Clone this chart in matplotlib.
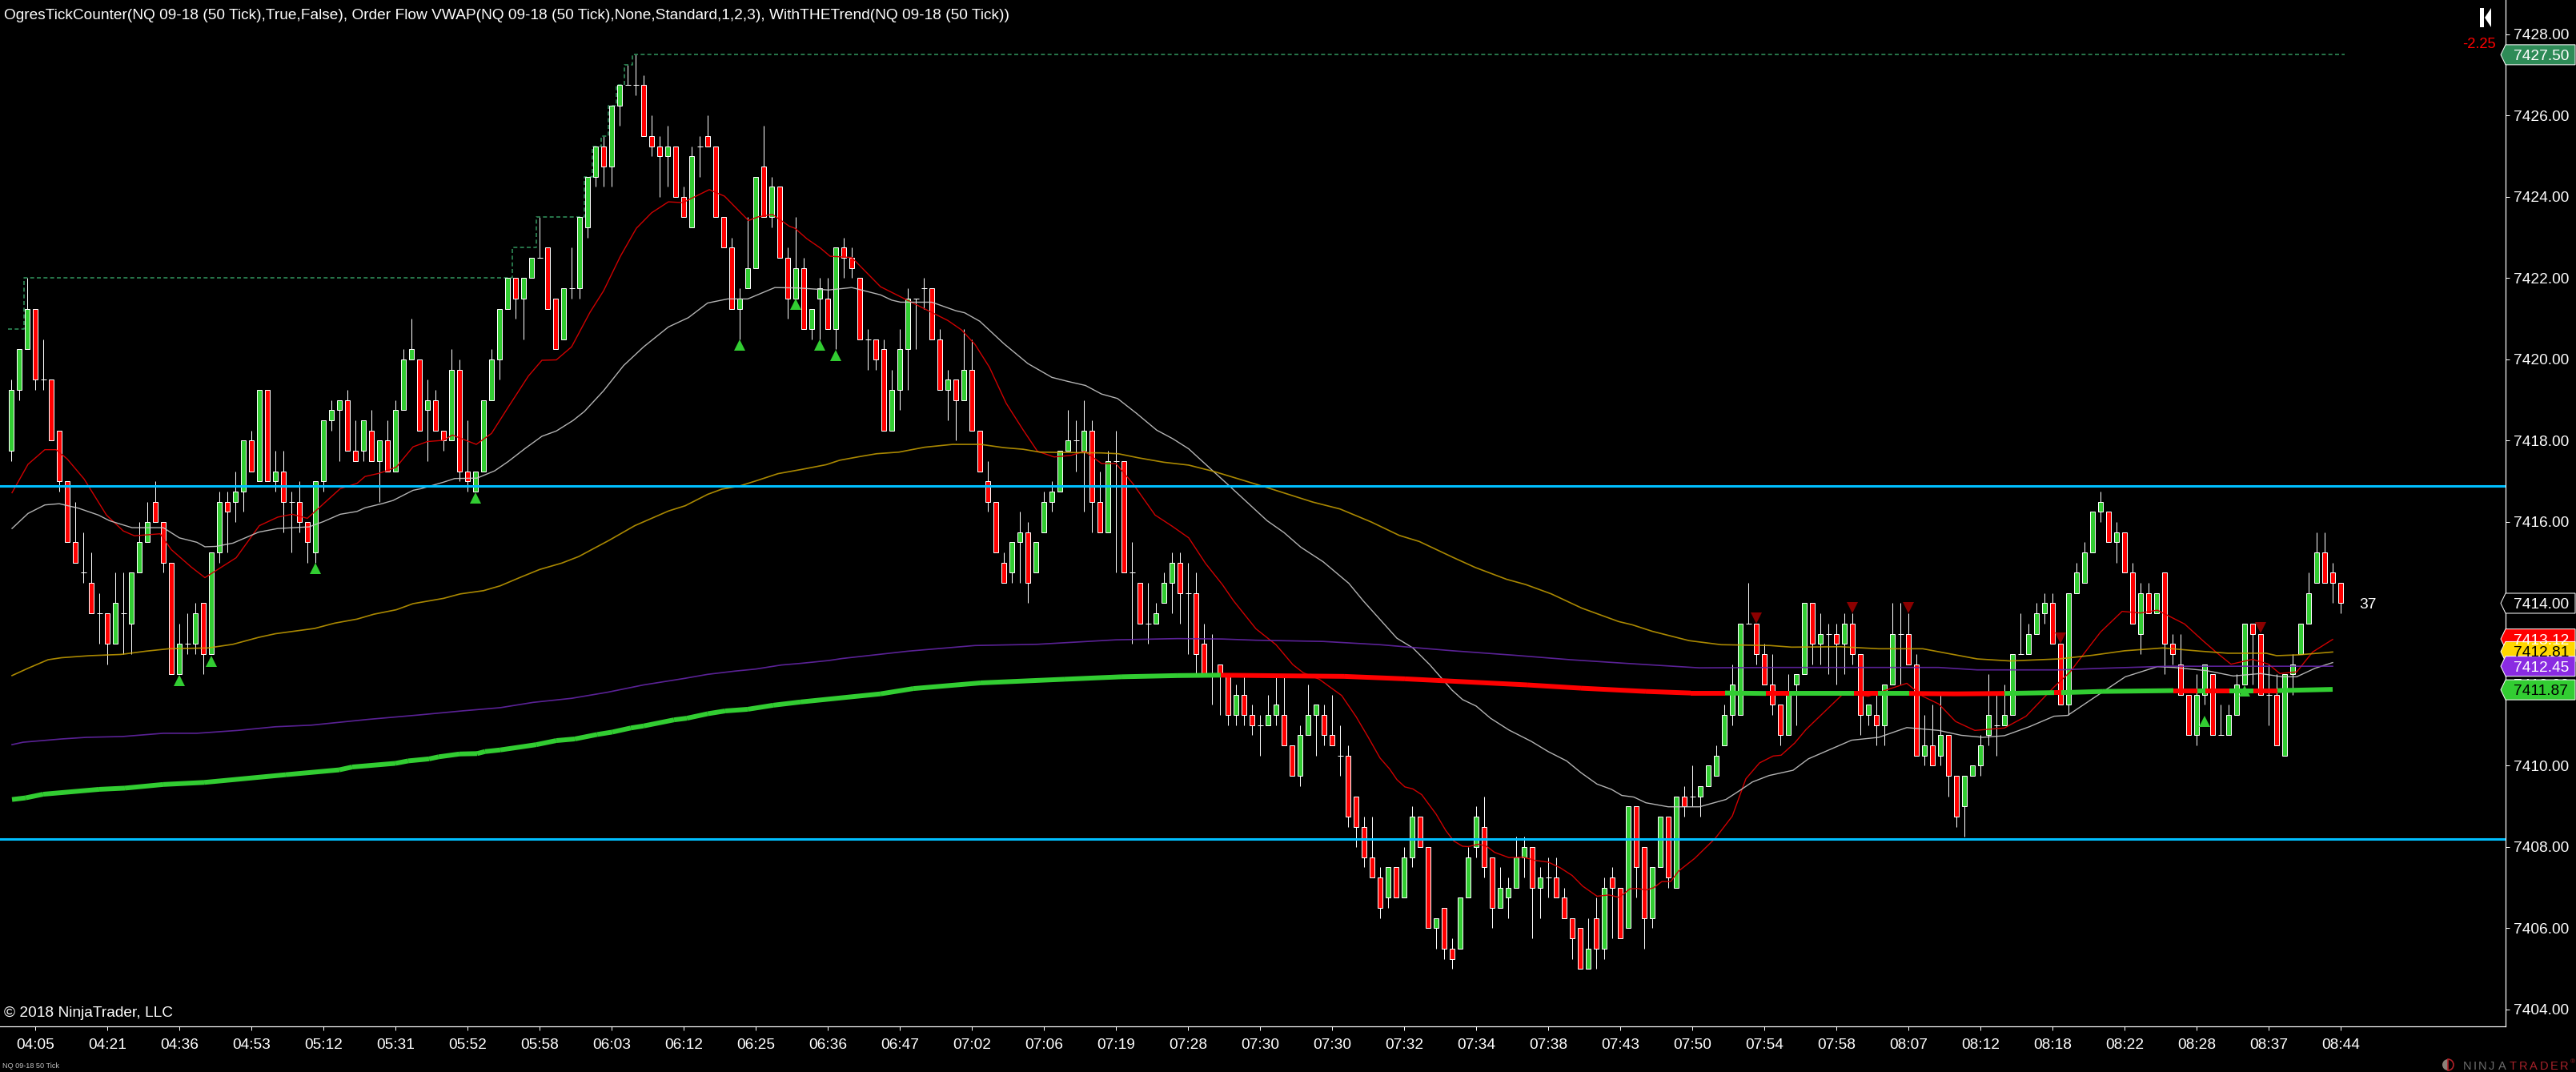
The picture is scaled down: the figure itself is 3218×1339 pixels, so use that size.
import numpy as np
import matplotlib
matplotlib.use('Agg')
import matplotlib.pyplot as plt
from matplotlib.collections import LineCollection
from matplotlib.patches import Polygon, Wedge

plt.rcParams['font.family'] = ['Liberation Sans', 'DejaVu Sans']

# candles, bar numbers run from -3 to 288, prices are 7400 + value
first_bar = -3
opens = [17.75,19.25,20.25,21.25,19.5,19.5,18.25,17,15.5,14.75,
 14.5,13.75,13.75,13,13.75,13.5,14.75,15.5,16.5,16,
 15,12.25,13,13,14,12.75,15.25,16.5,16.5,16.75,
 18,17,19.25,17,17.25,16.5,16.5,16,15.25,17,
 18.5,18.75,19,17.75,17.75,18.25,17.5,18,17.25,18.75,
 20,20,18.75,19,18.25,18,19.75,17.25,16.75,17.25,
 19,20,21.25,22,21.5,22,22.5,22.75,21.5,20.5,
 21.75,21.75,23.25,24.5,25.25,24.75,26.25,26.75,26.75,26.75,
 25.5,25.25,25,25.25,24,23.25,25.25,25.5,25.25,23.5,
 22.75,21.25,21.75,22.25,24.75,23.5,24.25,22.5,21.5,22.25,
 20.75,21.5,21.5,20.75,22.75,22.5,22,20.5,20.5,20.25,
 18.25,19.25,20.25,21.5,21.75,21.75,20.5,19.25,19.5,19,
 19.75,18.25,17,16.5,15,14.75,15.5,15.75,14.75,15.75,
 16.5,16.75,17.75,18,17.75,18.25,16.5,15.75,17.5,17.5,
 14.75,14.5,13.5,13.5,14,14.5,15,14.25,14.25,13,
 12.25,12.5,12.25,11.25,11.75,11.25,11,11,11.25,11.25,
 10.5,9.75,10.75,11.25,11.25,10.75,10.25,10.25,9.25,8.5,
 7.75,7.25,6.75,7.5,6.75,7.75,8.75,8,6,6.5,
 5.5,5.5,6.75,8,8.5,7.75,6.5,6.75,7,7.75,
 8,7,7.25,7.25,6.75,6.25,6,5,6.25,5.5,
 7.25,7,6,9,8,6.25,7.5,8.75,7,9.25,
 9.25,9.25,9.5,9.75,10.5,11.25,11.25,13.5,13.5,12.75,
 12,11.5,10.75,12,12.25,14,13,13.25,13.25,13,
 13.5,12.75,11.25,11.25,11,12,13.25,13.25,12.5,10.25,
 10.5,10.25,10.75,9.75,9,9.75,10,10.75,11,11,
 11.25,12.75,12.75,13.25,13.75,14,13,11.5,14.25,14.5,
 15.25,16.25,16.25,15.5,15.75,14.75,13.25,14.25,13.75,14.75,
 13,12.5,11.75,10.75,11.75,12.25,10.75,10.75,11.25,12,
 13.5,13.25,11.75,11.75,10.25,12.25,12.75,13.5,14.5,15.25,
 14.75,14.5]
highs = [19.5,20.25,22,21.25,20.5,19.5,18.25,17,16.5,15.75,
 15.25,14.25,13.75,14.75,14.75,14.75,16,16.5,17,16,
 15,13.5,13.75,14,14,15.25,16.75,16.75,17.25,18,
 18.25,19.25,19.25,17.75,17.75,16.75,17,16,17,18.5,
 19,19,19.25,18.5,18.5,18.75,18,18.5,19,20.25,
 21,20,19.5,19.25,18.25,20.25,20,18.5,17.25,19,
 20.25,21.25,22,22,22,22.5,23.5,22.75,21.5,21.75,
 22.75,23.5,24.5,25.25,25.5,26.25,26.75,27.25,27.5,27,
 26,25.5,25.75,25.25,24.25,25.25,25.5,26,25.25,23.5,
 23,21.75,23.5,24.5,25.75,24.5,24.25,22.75,23.5,22.5,
 21.25,22,22,22.75,23,22.75,22,20.75,20.5,20.5,
 19.75,20.75,21.75,21.5,22,21.75,20.75,19.75,19.5,20.75,
 20.5,18.25,17.5,16.5,15.25,15.5,16.25,16,15.5,16.75,
 17,17.75,18.75,18.5,19,18.5,17.25,17.75,18.25,17.5,
 15.5,14.5,14.5,13.75,14.75,15.25,15.25,15,14.75,13.5,
 13.25,12.5,12.25,12,12.25,11.5,11.25,11.75,12.25,12.25,
 10.5,11,12,11.5,11.5,11.75,11,10.5,9.25,8.75,
 8.75,7.5,7.5,7.5,8,9,8.75,8,6.25,6.5,
 5.75,6.75,8,9,9.25,7.75,7.5,7.25,8.25,8.25,
 8,7.5,7.75,7.75,7,6.25,6,6.25,6.75,7.25,
 7.5,7,9,9,8,7.5,8.75,8.75,9.25,9.5,
 10,9.5,10,10.5,11.5,12.5,13.5,14.5,13.5,13,
 12.75,11.5,12.25,12.25,14,14,13.75,13.5,13.5,13.75,
 13.75,12.75,11.5,11.75,12,14,14,13.75,12.75,11.25,
 11.5,11.75,10.75,9.75,9.75,10,10.75,12.25,11.75,12,
 12.75,13.75,13.5,14,14.25,14.25,13,14.25,15,15.5,
 16.25,16.75,16.25,16,15.75,15,14.5,14.5,14.25,14.75,
 13.25,13.25,11.75,12.25,12.5,12.25,11.5,11.5,12.25,13.5,
 13.5,13.25,12.5,12.25,12.25,12.75,13.5,14.75,15.75,15.75,
 15,14.5]
lows = [17.5,19,20.25,19.25,19.25,18,16.75,15.5,15,14.5,
 13.75,13,12.5,13,12.75,12.75,14.75,15.5,16,14.75,
 12.25,12.25,12.75,12.75,12.25,12.75,15,15.25,16,16.25,
 17.25,17,17,16.75,15.75,15.25,15.75,15,15,16.75,
 18.25,17.5,17.75,17.5,17.5,17.5,16.5,17.25,17.25,18.75,
 20,18.25,17.5,18.25,17.75,18,17,16.75,16.75,17.25,
 19,19.5,21.25,21,20.5,22,22.5,21.25,20.25,20.5,
 21.5,21.5,23,24.25,24.25,24.25,25.75,26.75,26.5,25.5,
 25,24,24.25,24,23.5,23.25,24.5,25.25,23.5,22.75,
 21.25,20.5,21.75,22.25,23.5,23.25,22.5,21,21.5,20.75,
 20.5,20.5,20.75,20.25,22,22,20.5,19.75,19.75,18.25,
 18.25,18.75,19.25,20.25,21.25,20.5,19.25,18.5,18,19,
 18.25,17.25,16.25,15.25,14.5,14.5,14.5,14,15,15.75,
 16.25,17.5,17.75,17.25,16.25,15.75,15.75,17,14.75,14.75,
 13,13.5,13,14,14.5,13.75,13.5,12.75,12.25,12.25,
 11.5,11.25,11,11,11,10.75,10.25,11,11,11.25,
 9.75,9.5,10.75,10.25,10.5,10.5,9.75,8.5,8,7.5,
 7.25,6.25,6.5,6.75,6.75,7.5,8,6,5.5,5.25,
 5,5.5,6.75,7.75,7.25,6,6.5,6.25,7,7.25,
 5.75,6.25,6.75,6.75,6.25,5.25,5,5,5,5.25,
 5.75,5.75,6,6.75,5.5,6,7.5,7,7,8.75,
 9,8.75,9.5,9.75,10.5,11,11.25,13.5,12.5,12,
 11.25,10.5,10.75,11,12.25,12.5,12.5,12.25,12,12.25,
 12.5,10.75,11,10.5,10.5,12,12,12.5,10.25,10,
 10,10,9.25,8.5,8.25,9.75,9.75,10.5,10.25,11,
 11.25,12.75,12.75,13.25,13.5,13,11.5,11.25,14.25,14.5,
 15.25,16,15.5,15,14.75,13.5,12.75,13.75,13.75,12.25,
 12.5,11.75,10.75,10.5,11.5,10.75,10.75,10.75,11.25,12,
 12,11.75,11,10.5,10.25,11.75,12.75,13.5,14.5,14.5,
 14,13.75]
closes = [19.25,20.25,21.25,19.5,19.5,18,17,15.5,15,14.75,
 13.75,13.75,13,14,13.75,14.75,15.5,16,16,15,
 12.25,13,13,13.75,12.75,15.25,16.5,16.25,16.75,18,
 17.25,19.25,17,17.25,16.5,16.5,16,15.5,17,18.5,
 18.75,19,17.75,17.5,18.5,17.5,18,17.25,18.75,20,
 20.25,18.25,19,18.25,18,19.75,17.25,17,17.25,19,
 20,21.25,22,21.5,22,22.5,22.5,21.25,20.25,21.75,
 21.75,23.5,24.5,25.25,24.75,26.25,26.75,26.75,26.75,25.5,
 25.25,25,25.25,24,23.5,25,25.25,25.25,23.5,22.75,
 21.25,21.5,22.25,24.5,23.5,24.25,22.5,21.5,22.25,20.75,
 21.25,21.75,20.75,22.75,22.5,22.25,20.5,20.5,20,18.25,
 19.25,20.25,21.5,21.5,21.75,20.5,19.25,19.5,19,19.75,
 18.25,17.25,16.5,15.25,14.5,15.5,15.75,14.5,15.5,16.5,
 16.75,17.75,18,18,18.25,16.5,15.75,17.5,17.5,14.75,
 14.75,13.5,13.5,13.75,14.5,15,14.25,14.25,12.75,12.25,
 12.25,12.25,11.25,11.75,11.25,11,11,11.25,11.5,10.5,
 9.75,10.75,11.25,11.5,10.75,10.5,10.25,8.75,8.5,7.75,
 7.25,6.5,7.5,6.75,7.75,8.75,8,6,6.25,5.5,
 5.25,6.75,7.75,8.75,7.5,6.5,7,7,7.75,8,
 7,7.25,7.25,6.75,6.25,5.75,5,5.5,5.5,7,
 7,5.75,9,7.5,6.25,7.5,8.75,7.25,9.25,9,
 9.25,9.5,10,10.25,11.25,12,13.5,13.5,12.75,12,
 11.5,10.75,11.75,12.25,14,13,13.25,13.25,13,13.5,
 12.75,11.25,11.5,11,12,13.25,13.25,12.5,10.25,10.5,
 10,10.75,9.75,8.75,9.75,10,10.5,11.25,11,11.25,
 12.75,12.75,13.25,13.75,14,13,11.5,14.25,14.75,15.25,
 16.25,16.5,15.5,15.75,14.75,13.5,14.25,13.75,14.25,13,
 12.75,11.75,10.75,11.75,12.5,10.75,10.75,11.25,12,13.5,
 13.25,11.75,11.75,10.5,12.25,12.5,13.5,14.25,15.25,14.5,
 14.5,14]

# indicator lines, read at the bars where they bend
fast_bars = [-2.9,-.9,1.2,2.6,4,6.1,8.9,11,12.4,15.6,17,19.5,21.2,25.1,28,30.3,32.1,34,38.1,40.2,41.2,43,45.1,47.2,49,51,52.1,55.1,57,59.1,61.6,63.3,65.1,67,69.3,71,73.1,75.1,77,79.1,80.9,84.2,86.1,89.1,90.3,92.1,94.2,94.9,96.4,98.1,99.3,102,105.6,114,115.7,117.4,119.2,121.3,123.4,125.2,127.3,129.4,131.1,133.2,135,137.1,139.9,142,144.1,146.2,148.3,149.7,152.5,155,157.1,158.4,160.4,163.2,165,166.5,168,169.2,170.1,171.1,172.1,173.2,175,176.2,177.2,178.3,179,180.3,181.3,182.3,184.1,185.9,187.4,189,190.5,192,193.3,195.1,196.6,197.9,199.2,200.2,201.2,202.2,203.2,204.3,205.3,207.3,209.9,212,213.7,215.4,217.1,218.1,219.8,221.2,225.9,229,231,233.8,235.8,237.8,239.9,242.3,246,248.7,252.2,254.2,256.2,258,260.7,263,265.1,268.5,270.9,272.6,274.3,277,279,280.4,282.5,284.5,287]
fast_vals = [7416.72,7417.42,7417.78,7417.78,7417.55,7417.06,7416.17,7415.78,7415.66,7415.71,7415.32,7414.89,7414.63,7415.12,7415.91,7416.12,7416.19,7416.09,7416.82,7416.95,7417.12,7417.2,7417.35,7417.85,7417.98,7418.01,7418.14,7417.91,7418.18,7418.83,7419.59,7419.98,7419.99,7420.31,7421.16,7421.69,7422.54,7423.23,7423.61,7423.88,7423.86,7424.18,7424.02,7423.42,7423.51,7423.57,7423.28,7423.23,7422.97,7422.74,7422.54,7422.51,7421.79,7420.96,7420.73,7420.37,7419.81,7418.92,7418.27,7417.74,7417.6,7417.64,7417.74,7417.44,7417.44,7416.95,7416.17,7415.9,7415.61,7414.98,7414.46,7414.06,7413.37,7412.98,7412.49,7412.29,7412.13,7411.73,7411.21,7410.71,7410.19,7409.92,7409.66,7409.48,7409.43,7409.29,7408.81,7408.41,7408.15,7408.02,7408.01,7408.07,7408.02,7407.87,7407.74,7407.75,7407.67,7407.63,7407.49,7407.3,7407.04,7406.79,7406.82,7406.76,7406.97,7406.98,7406.94,7407,7407.15,7407.15,7407.41,7407.72,7408.22,7408.76,7409.68,7410.07,7410.24,7410.26,7410.56,7410.89,7411.78,7411.71,7411.85,7412.03,7411.71,7411.52,7411.09,7410.87,7410.93,7411.22,7411.94,7412.31,7412.83,7413.29,7413.8,7413.76,7413.83,7413.49,7413.06,7412.77,7412.5,7412.62,7412.5,7412.27,7412.31,7412.8,7413.11]

slow_bars = [-2.9,-.9,1.2,3,5.4,7.9,9.3,12.1,16,18,20.2,21.2,22.6,24.7,27.9,30.3,34.2,36,38.1,40.2,41.2,43.3,44.7,47.2,48.2,51,52.4,55.2,57.4,59.1,61.2,63.3,65.1,67.2,68.6,71,73.5,76,79.1,81.6,84,86.5,89,92.4,95.3,99.1,102,105.6,107,108.1,112,115,116.1,118,121,124,127,129,131.2,133.2,135.2,137.6,140.1,142.1,144.1,147.1,149,153.9,156,158.1,160.9,164.1,165.9,168,170.1,172.1,174.2,177,178.3,180,181.8,184.1,186.9,189,191.3,193.1,195.1,196.9,198.2,199.7,201.2,204,207.9,211.2,213,214.5,216.6,219.6,221.5,226.9,230.3,233.8,237.8,240.6,243.3,246,249.1,252.2,253.9,257,261.1,265.1,267.2,271.3,274.6,278,280.7,282.5,284.8,287]
slow_vals = [7415.84,7416.21,7416.42,7416.45,7416.34,7416.17,7416.03,7415.86,7415.86,7415.61,7415.5,7415.39,7415.4,7415.48,7415.75,7415.84,7415.88,7416.01,7416.19,7416.26,7416.35,7416.45,7416.53,7416.78,7416.82,7416.98,7417.07,7417.08,7417.26,7417.49,7417.81,7418.11,7418.24,7418.5,7418.72,7419.23,7419.85,7420.31,7420.8,7421.03,7421.39,7421.49,7421.49,7421.77,7421.76,7421.71,7421.77,7421.59,7421.46,7421.41,7421.41,7421.2,7421.15,7420.94,7420.39,7419.9,7419.56,7419.46,7419.36,7419.15,7419.04,7418.67,7418.26,7418.05,7417.8,7417.26,7416.92,7416.03,7415.74,7415.38,7415.02,7414.49,7414.06,7413.6,7413.14,7412.9,7412.49,7411.86,7411.63,7411.47,7411.17,7410.88,7410.6,7410.35,7410.12,7409.83,7409.55,7409.42,7409.27,7409.23,7409.09,7408.99,7408.99,7409.17,7409.4,7409.6,7409.76,7409.89,7410.17,7410.63,7410.7,7410.94,7410.87,7410.75,7410.7,7410.74,7410.96,7411.22,7411.24,7411.65,7412.19,7412.44,7412.42,7412.34,7412.21,7412.27,7412.19,7412.19,7412.4,7412.54]

gold_bars = [-2.9,-.9,1.6,3.3,6.8,10.7,13.8,16.7,21.6,24.7,27.9,30,34.9,37.4,40.2,42.3,45.1,47.2,51,53.1,56,58.1,60.5,63,65.8,67.9,71.7,74.9,77,79.1,81.2,84,85.8,87.9,90,92.8,95.9,98.8,100.5,103,105.1,107.9,111.1,114.6,118.1,121,123.4,125.5,133.2,135.3,137.8,141,144.1,147.3,150.5,154,159.6,163,166.9,170.4,172.9,177.1,179.9,183.8,186.2,189.4,193.2,197.8,199.5,202,206.6,210.6,216.7,219.4,225.5,230.3,235.8,238.5,242.6,246.7,252.8,257,261,265.8,270.5,273.9,278.7,280,282.7,287]
gold_vals = [7412.22,7412.4,7412.61,7412.66,7412.71,7412.74,7412.82,7412.88,7412.9,7412.99,7413.16,7413.25,7413.38,7413.51,7413.61,7413.73,7413.84,7413.99,7414.12,7414.23,7414.31,7414.43,7414.63,7414.83,7414.99,7415.15,7415.55,7415.91,7416.09,7416.27,7416.4,7416.68,7416.81,7416.88,7417.01,7417.19,7417.3,7417.41,7417.52,7417.61,7417.68,7417.72,7417.84,7417.91,7417.91,7417.83,7417.79,7417.72,7417.7,7417.68,7417.58,7417.47,7417.4,7417.24,7417.05,7416.84,7416.49,7416.32,7416,7415.67,7415.52,7415.13,7414.88,7414.59,7414.46,7414.23,7413.88,7413.55,7413.47,7413.31,7413.08,7412.98,7412.96,7412.92,7412.93,7412.88,7412.88,7412.78,7412.63,7412.58,7412.63,7412.72,7412.83,7412.9,7412.82,7412.77,7412.77,7412.71,7412.73,7412.8]

purple_bars = [-2.9,-1.5,3.3,6.4,10.9,16,20.2,25.3,30,34.5,41.5,47.9,53.3,58.1,62.2,67,71.5,76,81.1,84,87.4,90,93.2,95.6,99.1,100.8,109,117.4,125.2,135,142.7,148.3,152.5,160.9,168,177.1,184.8,191.8,198.8,207.9,217.4,237.8,242.6,252.8,258.3,266.5,287]
purple_vals = [7410.52,7410.58,7410.66,7410.7,7410.72,7410.8,7410.8,7410.87,7410.96,7411,7411.14,7411.25,7411.35,7411.43,7411.56,7411.66,7411.81,7411.99,7412.15,7412.25,7412.33,7412.38,7412.48,7412.52,7412.59,7412.64,7412.82,7412.96,7412.99,7413.1,7413.13,7413.12,7413.09,7413.06,7412.98,7412.83,7412.72,7412.61,7412.52,7412.41,7412.42,7412.42,7412.36,7412.36,7412.4,7412.45,7412.45]

# thick vwap, red between the from/to pairs and green elsewhere
vwap_bars = [-2.9,-1.2,1,8,11.2,16,21.1,31.3,38,39.6,45,46.6,49.2,50.4,53,55.2,56.2,58.1,62.6,65.1,67.4,70.2,72.1,74.4,76,79.8,81.4,84,86.2,89,92.2,95.6,105.6,109.7,118.1,128.6,135.7,142.7,148.1,153,163.5,171.1,176.2,186.4,193.1,201.2,206.8,211.1,216.2,219.1,227.2,230.2,234.1,239.9,246,252.2,253.1,258.3,267.1,270.1,271.1,274.1,277.1,280.1,287]
vwap_vals = [7409.17,7409.21,7409.3,7409.42,7409.45,7409.54,7409.59,7409.78,7409.9,7409.97,7410.06,7410.12,7410.17,7410.22,7410.29,7410.3,7410.35,7410.39,7410.52,7410.62,7410.66,7410.77,7410.83,7410.93,7410.98,7411.13,7411.17,7411.28,7411.35,7411.39,7411.49,7411.57,7411.77,7411.9,7412.04,7412.13,7412.19,7412.22,7412.23,7412.22,7412.2,7412.14,7412.09,7411.99,7411.91,7411.83,7411.79,7411.79,7411.78,7411.78,7411.78,7411.78,7411.78,7411.77,7411.78,7411.8,7411.8,7411.83,7411.85,7411.85,7411.85,7411.85,7411.85,7411.85,7411.88]
vwap_red_from = [148.1, 216.2, 227.2, 234.1, 252.2, 267.1, 271.1, 277.1]
vwap_red_to = [211.1, 219.1, 230.2, 246, 253.1, 270.1, 274.1, 280.1]

# signal triangles
up_bars = [18, 22, 35, 55, 88, 95, 98, 100, 271, 276]
up_vals = [7412.09, 7412.58, 7414.85, 7416.59, 7420.35, 7421.36, 7420.35, 7420.1, 7411.09, 7411.84]
down_bars = [215, 227, 234, 253, 278]
down_vals = [7413.64, 7413.89, 7413.89, 7413.14, 7413.4]

# drawn lines and stepped high line, each step value starts at its bar
level_lines = [7416.88, 7408.19]
step_bars = [-3.4, -1.4, 59.6, 62.6, 68.6, 69.6, 70.7, 71.6, 72.6, 73.6, 74.6, 288.5]
step_vals = [7420.75, 7422, 7422.75, 7423.5, 7424.5, 7425.25, 7425.5, 7426.25, 7426.75, 7427.25, 7427.5, 7427.5]

price_ticks = list(range(7404, 7429, 2))
time_labels = ['04:05','04:21','04:36','04:53','05:12','05:31','05:52','05:58','06:03','06:12','06:25',
               '06:36','06:47','07:02','07:06','07:19','07:28','07:30','07:30','07:32','07:34','07:38',
               '07:43','07:50','07:54','07:58','08:07','08:12','08:18','08:22','08:28','08:37','08:44']
marker_prices = [7427.50, 7414.00, 7413.12, 7412.81, 7412.45, 7411.87]
marker_fills = ['#2E8B57', '#000000', '#FF0000', '#FFD700', '#8A2BE2', '#32CD32']
marker_texts = ['white', 'white', 'white', 'black', 'white', 'black']

W, H = 3218, 1339
GREEN = '#32CD32'
RED = '#FF0000'
BLUE = '#00BFFF'
PX = 0.72  # one pixel in points at dpi 100
FONT = 13.8

fig = plt.figure(figsize=(W / 100, H / 100), dpi=100, facecolor='black')
ax = fig.add_axes([0, (H - 1282) / H, 3130 / W, 1282 / H], facecolor='black')
ax.set_xlim(-4.4, 308.6)
ax.set_ylim(7428 - (1282 - 43) / 50.75, 7428 + 43 / 50.75)

bars = first_bar + np.arange(len(opens))
o = 7400 + np.array(opens)
h = 7400 + np.array(highs)
l = 7400 + np.array(lows)
c = 7400 + np.array(closes)
up = c > o
down = c < o
flat = c == o

# candles
ax.vlines(bars, l, h, color='white', linewidth=PX, zorder=2)
ax.bar(bars[up], (c - o)[up], bottom=o[up], width=0.6, color=GREEN, edgecolor='white', linewidth=PX, zorder=3)
ax.bar(bars[down], (o - c)[down], bottom=c[down], width=0.6, color=RED, edgecolor='white', linewidth=PX, zorder=3)
ax.hlines(c[flat], bars[flat] - 0.35, bars[flat] + 0.35, color='white', linewidth=PX, zorder=3)

# indicators
ax.plot(fast_bars, fast_vals, color='#D00000', linewidth=1.0, zorder=4)
ax.plot(slow_bars, slow_vals, color='#C8C8C8', linewidth=1.0, alpha=.9, zorder=4)
ax.plot(gold_bars, gold_vals, color='#C8A000', linewidth=1.2, alpha=.85, zorder=4)
ax.plot(purple_bars, purple_vals, color='#6A28B0', linewidth=1.2, alpha=.85, zorder=4)

points = np.column_stack([vwap_bars, vwap_vals])
segments = np.stack([points[:-1], points[1:]], axis=1)
seg_colors = []
for start in vwap_bars[:-1]:
    is_red = any(a <= start < b for a, b in zip(vwap_red_from, vwap_red_to))
    seg_colors.append(RED if is_red else GREEN)
ax.add_collection(LineCollection(segments, colors=seg_colors, linewidths=4.3, capstyle='butt', zorder=5))

for level in level_lines:
    ax.axhline(level, color=BLUE, linewidth=2.2, zorder=6)

ax.step(step_bars, step_vals, where='post', color='#2E8B57', linewidth=1.2, linestyle=(0, (3, 2)), zorder=2)

ax.plot(up_bars, up_vals, '^', color=GREEN, markersize=10.5, markeredgewidth=0, zorder=7)
ax.plot(down_bars, down_vals, 'v', color='#8B0000', markersize=10.5, markeredgewidth=0, zorder=7)

# axes
for side in ['top', 'left']:
    ax.spines[side].set_visible(False)
for side in ['right', 'bottom']:
    ax.spines[side].set_color('white')
    ax.spines[side].set_linewidth(PX * 1.2)
ax.yaxis.tick_right()
# the 7414.00 tick sits under its price marker, so it gets no label of its own
ax.set_yticks(price_ticks, ['' if p == 7414 else f'{p:.2f}' for p in price_ticks])
ax.set_xticks(np.arange(len(time_labels)) * 9, time_labels)
ax.tick_params(axis='y', colors='white', length=3.6, width=PX, pad=3.6, labelsize=FONT)
ax.tick_params(axis='x', colors='white', length=3.6, width=PX, pad=7.5, labelsize=FONT)

# everything outside the plot area sits on a pixel sized overlay
over = fig.add_axes([0, 0, 1, 1], zorder=10)
over.set_xlim(0, W)
over.set_ylim(H, 0)
over.axis('off')


def price_to_py(price):
    return H - ax.transData.transform((0, price))[1]


def add_marker(price, fill, text_color):
    y = price_to_py(price)
    xy = [(3124, y), (3130, y - 12.5), (3217, y - 12.5), (3217, y + 12.5), (3130, y + 12.5)]
    over.add_patch(Polygon(xy, closed=True, facecolor=fill, edgecolor='white', linewidth=PX))
    over.text(3140, y, f'{price:.2f}', color=text_color, fontsize=FONT, va='center_baseline', ha='left')


# red and gold labels are covered in part by the next one, so keep this order
for price, fill, tc in zip(marker_prices, marker_fills, marker_texts):
    add_marker(price, fill, tc)

title = ('OgresTickCounter(NQ 09-18 (50 Tick),True,False), Order Flow VWAP(NQ 09-18 (50 Tick),'
         'None,Standard,1,2,3), WithTHETrend(NQ 09-18 (50 Tick))')
over.text(5, 17, title, color='white', fontsize=FONT, va='center_baseline')
over.text(5, 1264, '\u00a9 2018 NinjaTrader, LLC', color='white', fontsize=FONT, va='center_baseline')
over.text(3, 1330, 'NQ 09-18 50 Tick', color='#C0C0C0', fontsize=6.6, va='center_baseline')
over.text(2958, 753, '37', color='white', fontsize=FONT, ha='center', va='center_baseline')
over.text(3097, 53, '-2.25', color=RED, fontsize=13.2, ha='center', va='center_baseline')

# return to start button
over.add_patch(Polygon([(3098, 10), (3103, 10), (3103, 34), (3098, 34)], facecolor='white', edgecolor='none'))
over.add_patch(Polygon([(3112, 10), (3112, 34), (3104, 22)], facecolor='white', edgecolor='none'))

# logo
over.add_patch(Wedge((3058, 1330), 7, 90, 270, facecolor='#8A8078', edgecolor='none'))
over.add_patch(Wedge((3058, 1330), 7, 270, 90, facecolor='none', edgecolor='#B02028', linewidth=1.2))
logo_x = 3077
for i, ch in enumerate('NINJATRADER'):
    color = '#6E6E6E' if i < 5 else '#A8222A'
    step = 12.8 if ch not in 'I' else 6.0
    over.text(logo_x, 1330, ch, color=color, fontsize=10.5, va='center_baseline', ha='left')
    logo_x += step
over.text(logo_x, 1326, '\u00ae', color='#A8222A', fontsize=6, va='center_baseline', ha='left')

fig.savefig('out.png', dpi=100, facecolor='black')
